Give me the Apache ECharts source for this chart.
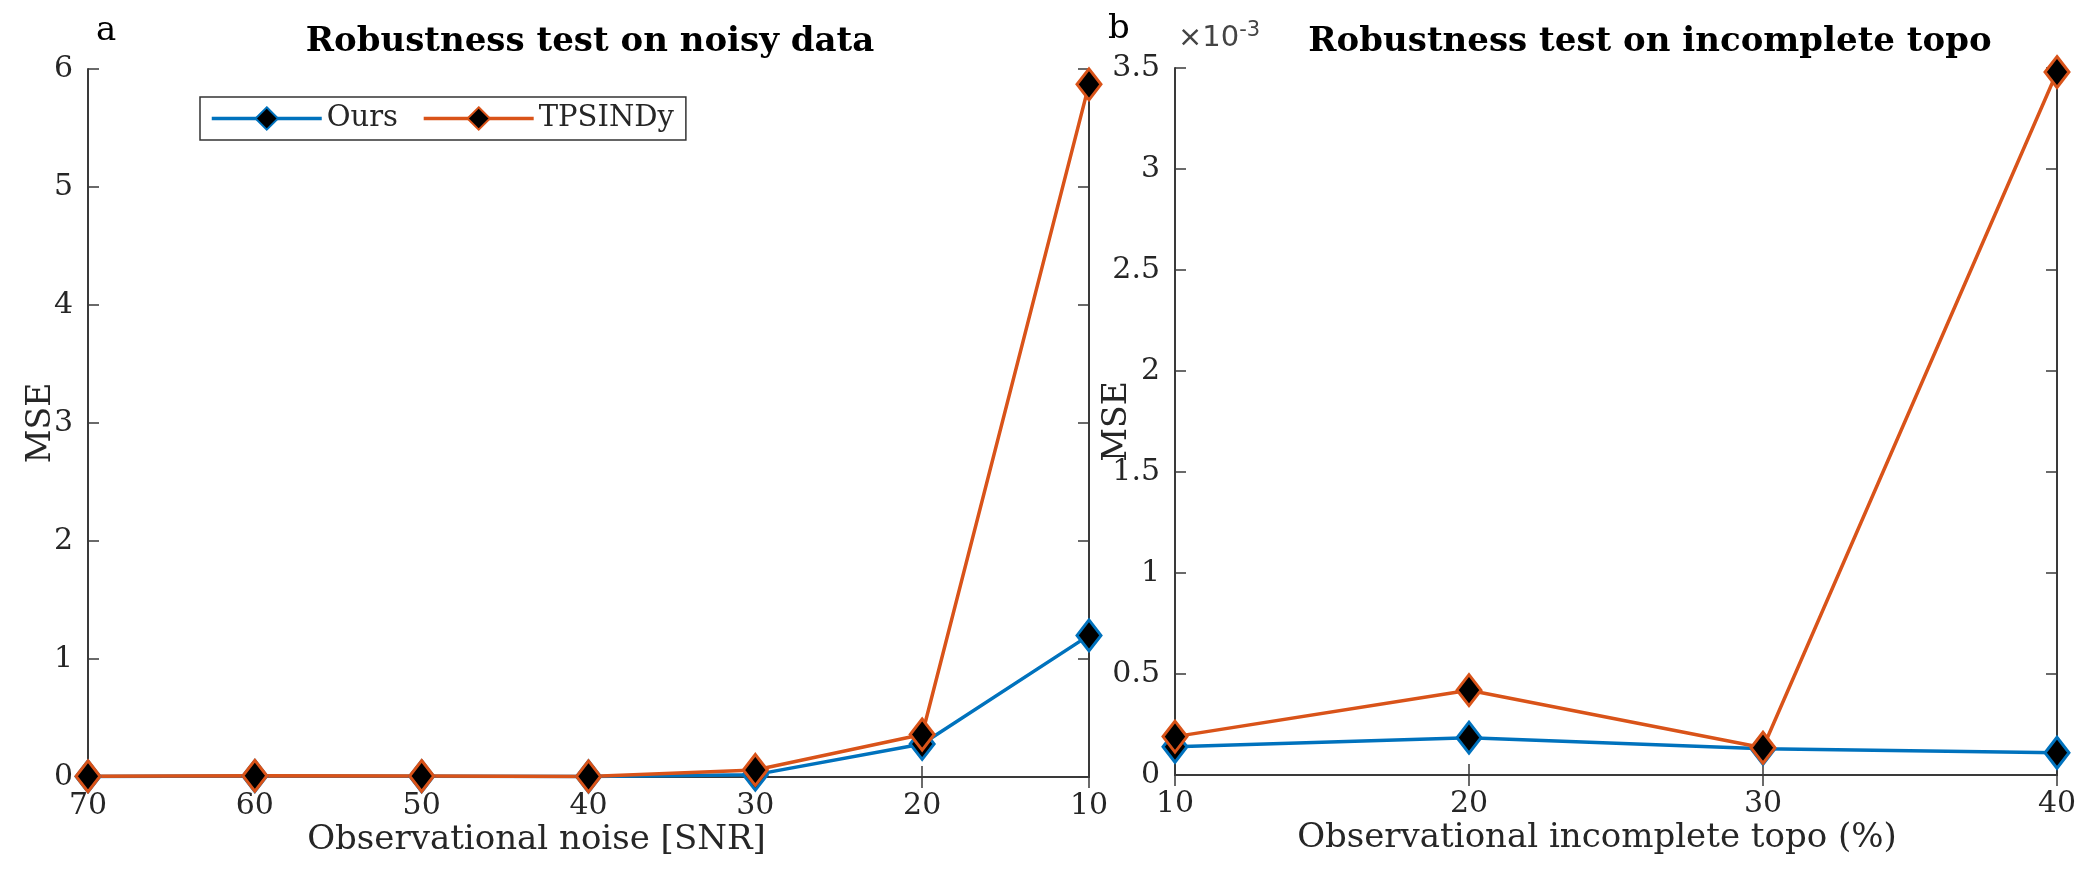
<!DOCTYPE html>
<html>
<head>
<meta charset="utf-8">
<script src="https://cdn.jsdelivr.net/npm/echarts@6/dist/echarts.min.js"></script>
<style>
  html, body { margin: 0; padding: 0; background: #fff; }
  #chart { width: 2088px; height: 873px; }
</style>
</head>
<body>
<div id="chart"></div>
<script>
// panel a: noise levels (SNR), MSE
var noiseLevels = ['70', '60', '50', '40', '30', '20', '10'];
var oursNoise = [0.005, 0.008, 0.006, 0.004, 0.02, 0.28, 1.2];
var tpNoise = [0.006, 0.01, 0.008, 0.005, 0.06, 0.36, 5.87];

// panel b: incomplete topology (%), MSE in units of 1e-3
var topoLevels = ['10', '20', '30', '40'];
var oursTopo = [0.14, 0.185, 0.13, 0.11];
var tpTopo = [0.19, 0.42, 0.135, 3.48];

var yTicksA = { min: 0, max: 6, interval: 1 };
var yTicksB = { min: 0, max: 3.5, interval: 0.5 };

var BLUE = '#0072BD';
var ORANGE = '#D95319';
var AXIS = '#3a3a3a';
var TEXT = '#262626';
var SERIF = 'DejaVu Serif';

var myChart = echarts.init(document.getElementById('chart'));

// shift: how far the axis title sits left of the plot centre
function bottomAxis(idx, cats, name, gap, shift) {
    return {
        type: 'category',
        gridIndex: idx,
        data: cats,
        boundaryGap: false,
        position: 'bottom',
        axisLine: { lineStyle: { color: AXIS, width: 2 } },
        axisTick: { inside: true, length: 11, lineStyle: { color: AXIS, width: 1.5 } },
        axisLabel: { color: TEXT, fontFamily: SERIF, fontSize: 30, margin: 14 },
        splitLine: { show: false },
        name: name,
        nameLocation: 'middle',
        nameGap: gap,
        nameMoveOverlap: false,
        nameTextStyle: { color: TEXT, fontFamily: SERIF, fontSize: 34, padding: [0, shift * 2, 0, 0] }
    };
}

function topAxis(idx, cats) {
    return {
        type: 'category',
        gridIndex: idx,
        data: cats,
        boundaryGap: false,
        position: 'top',
        axisLine: { lineStyle: { color: AXIS, width: 2 } },
        axisTick: { inside: true, length: 11, lineStyle: { color: AXIS, width: 1.5 } },
        axisLabel: { show: false },
        splitLine: { show: false }
    };
}

function leftAxis(idx, t, gap) {
    return {
        type: 'value',
        gridIndex: idx,
        position: 'left',
        min: t.min,
        max: t.max,
        interval: t.interval,
        axisLine: { show: true, lineStyle: { color: AXIS, width: 2 } },
        axisTick: { show: true, inside: true, length: 11, lineStyle: { color: AXIS, width: 1.5 } },
        axisLabel: { color: TEXT, fontFamily: SERIF, fontSize: 30, margin: 15 },
        splitLine: { show: false },
        name: 'MSE',
        nameLocation: 'middle',
        nameGap: gap,
        nameRotate: 90,
        nameMoveOverlap: false,
        nameTextStyle: { color: TEXT, fontFamily: SERIF, fontSize: 33 }
    };
}

function rightAxis(idx, t) {
    return {
        type: 'value',
        gridIndex: idx,
        position: 'right',
        min: t.min,
        max: t.max,
        interval: t.interval,
        axisLine: { show: true, lineStyle: { color: AXIS, width: 2 } },
        axisTick: { show: true, inside: true, length: 11, lineStyle: { color: AXIS, width: 1.5 } },
        axisLabel: { show: false },
        splitLine: { show: false }
    };
}

function lineSeries(name, color, xi, yi, data) {
    return {
        name: name,
        type: 'line',
        xAxisIndex: xi,
        yAxisIndex: yi,
        data: data,
        symbol: 'diamond',
        symbolSize: [24, 31],
        showAllSymbol: true,
        lineStyle: { color: color, width: 3.5 },
        itemStyle: { color: '#000000', borderColor: color, borderWidth: 3 },
        emphasis: { disabled: true },
        animation: false
    };
}

option = {
    backgroundColor: '#ffffff',
    animation: false,
    grid: [
        { left: 88, top: 69, width: 1001, height: 708 },
        { left: 1175, top: 68, width: 882, height: 707 }
    ],
    graphic: [
        { type: 'text', left: 96, top: 14, style: { text: 'a', fontFamily: SERIF, fontSize: 34, fill: '#000' } },
        { type: 'text', left: 1108, top: 12, style: { text: 'b', fontFamily: SERIF, fontSize: 34, fill: '#000' } },
        {
            type: 'text', left: 1178, top: 20,
            style: {
                text: '×10{sup|-3}',
                fontFamily: 'DejaVu Sans', fontSize: 29, fill: '#444',
                rich: { sup: { fontFamily: 'DejaVu Sans', fontSize: 21, fill: '#444', verticalAlign: 'top', padding: [0, 0, 16, 0] } }
            }
        },
        {
            type: 'text', x: 590, y: 42,
            style: { text: 'Robustness test on noisy data', fontFamily: SERIF, fontWeight: 'bold', fontSize: 34, fill: '#000', align: 'center', verticalAlign: 'middle' }
        },
        {
            type: 'text', x: 1650, y: 42,
            style: { text: 'Robustness test on incomplete topo', fontFamily: SERIF, fontWeight: 'bold', fontSize: 34, fill: '#000', align: 'center', verticalAlign: 'middle' }
        }
    ],
    legend: {
        left: 200,
        top: 97,
        data: ['Ours', 'TPSINDy'],
        orient: 'horizontal',
        itemWidth: 110,
        itemHeight: 28,
        itemGap: 24,
        padding: [7, 12, 7, 10],
        borderColor: '#333',
        borderWidth: 1.5,
        backgroundColor: '#fff',
        lineStyle: { width: 3.5 },
        textStyle: { color: TEXT, fontFamily: SERIF, fontSize: 29 }
    },
    xAxis: [
        bottomAxis(0, noiseLevels, 'Observational noise [SNR]', 46, 52),
        topAxis(0, noiseLevels),
        bottomAxis(1, topoLevels, 'Observational incomplete topo (%)', 46, 19),
        topAxis(1, topoLevels)
    ],
    yAxis: [
        leftAxis(0, yTicksA, 30),
        rightAxis(0, yTicksA),
        leftAxis(1, yTicksB, 41),
        rightAxis(1, yTicksB)
    ],
    series: [
        lineSeries('Ours', BLUE, 0, 0, oursNoise),
        lineSeries('TPSINDy', ORANGE, 0, 0, tpNoise),
        lineSeries('Ours', BLUE, 2, 2, oursTopo),
        lineSeries('TPSINDy', ORANGE, 2, 2, tpTopo)
    ]
};
myChart.setOption(option);
</script>
</body>
</html>
